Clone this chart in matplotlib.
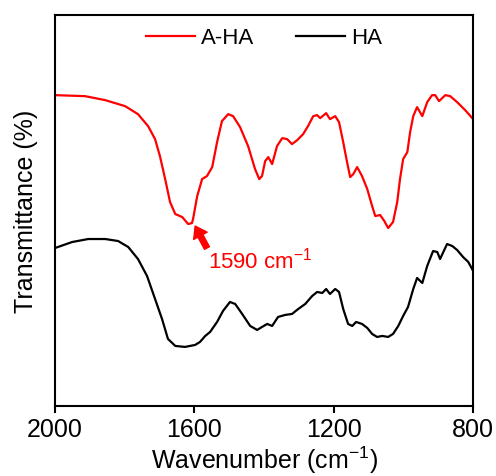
import matplotlib.pyplot as plt
import numpy as np

plt.rcParams['font.family'] = ['Liberation Sans', 'DejaVu Sans']
plt.rcParams['mathtext.fontset'] = 'custom'
plt.rcParams['mathtext.rm'] = 'Liberation Sans'
plt.rcParams['mathtext.it'] = 'Liberation Sans'

# A-HA spectrum (wavenumber, transmittance in arbitrary offset units)
aha_wn = [2000, 1914, 1856, 1799, 1762, 1733, 1713, 1699, 1684, 1670, 1655, 1635,
          1618, 1607, 1604, 1592, 1578, 1564, 1549, 1535, 1521, 1503, 1489, 1469,
          1446, 1426, 1414, 1406, 1397, 1388, 1377, 1363, 1348, 1334, 1320, 1305,
          1288, 1274, 1259, 1248, 1239, 1222, 1211, 1196, 1185, 1173, 1162, 1153,
          1144, 1133, 1119, 1104, 1090, 1081, 1067, 1055, 1044, 1030, 1018, 1010,
          1001, 989, 981, 972, 961, 946, 932, 918, 909, 898, 880, 866, 846, 823, 800]
aha_t = [311, 310, 306, 300, 292, 280, 267, 250, 227, 204, 192, 189,
         182, 183, 187, 210, 227, 230, 239, 264, 285, 292, 290, 279,
         260, 237, 227, 230, 245, 249, 242, 260, 268, 267, 262, 266,
         272, 280, 290, 291, 288, 293, 287, 290, 284, 264, 244, 229,
         232, 239, 230, 217, 200, 190, 191, 185, 178, 184, 204, 227,
         247, 254, 274, 290, 299, 290, 304, 311, 311, 305, 311, 310, 304, 296, 287]

# HA spectrum
ha_wn = [2000, 1951, 1905, 1856, 1819, 1790, 1762, 1736, 1713, 1693, 1676, 1655,
         1627, 1598, 1584, 1569, 1555, 1535, 1518, 1498, 1483, 1463, 1440, 1420,
         1406, 1391, 1377, 1360, 1340, 1320, 1302, 1282, 1262, 1248, 1233, 1222,
         1211, 1196, 1185, 1173, 1159, 1147, 1136, 1119, 1104, 1090, 1076, 1061,
         1044, 1030, 1015, 1001, 987, 972, 961, 946, 932, 915, 903, 895, 875,
         860, 846, 829, 814, 800]
ha_t = [158, 164, 167, 167, 165, 159, 147, 130, 107, 87, 67, 60,
        59, 61, 64, 70, 74, 84, 95, 104, 102, 92, 80, 76,
        79, 82, 80, 89, 91, 92, 97, 102, 110, 114, 113, 117,
        112, 117, 114, 97, 82, 80, 84, 82, 78, 72, 69, 70,
        69, 72, 80, 90, 99, 117, 128, 123, 140, 155, 154, 147, 162,
        160, 156, 149, 144, 135]

peak_wn, peak_t = 1598, 180
label_wn, label_t = 1564, 158

fig = plt.figure(figsize=(4.96, 4.77), dpi=100)
ax = fig.add_axes([0.111, 0.147, 0.843, 0.819])

ax.plot(aha_wn, aha_t, color='red', lw=1.6, label='A-HA')
ax.plot(ha_wn, ha_t, color='black', lw=1.6, label='HA')

ax.annotate('', xy=(peak_wn, peak_t), xytext=(label_wn, label_t),
            arrowprops=dict(facecolor='red', edgecolor='red', width=4,
                            headwidth=11, headlength=8, shrink=0))
ax.text(1561, 146, '1590 cm$^{-1}$', color='red', fontsize=16,
        ha='left', va='center')

ax.set_xlim(2000, 800)
ax.set_ylim(0, 391)
ax.set_xticks([2000, 1600, 1200, 800])
ax.set_yticks([])
ax.tick_params(axis='x', direction='out', length=5, width=1.5,
               labelsize=18, pad=3)
for s in ax.spines.values():
    s.set_linewidth(1.5)

ax.set_xlabel('Wavenumber (cm$^{-1}$)', fontsize=18, labelpad=2)
ax.set_ylabel('Transmittance (%)', fontsize=18, labelpad=12)

ax.legend(loc='upper center', ncol=2, frameon=False, fontsize=16,
          handlelength=2.2, columnspacing=1.9, handletextpad=0.25,
          bbox_to_anchor=(0.5, 1.02))

fig.savefig('out.png', dpi=100)
